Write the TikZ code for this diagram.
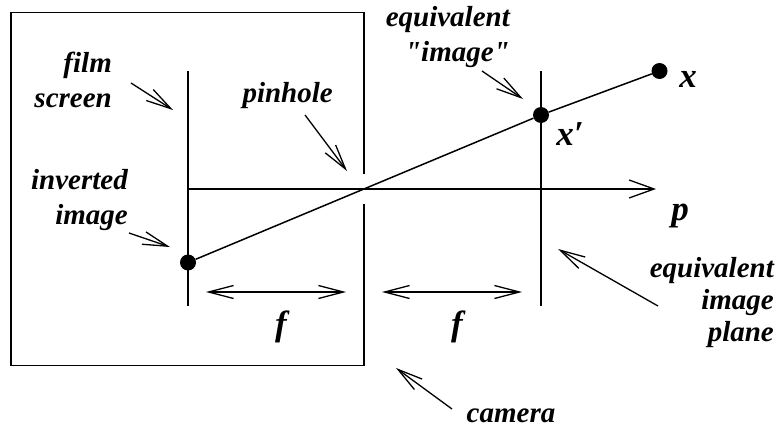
\documentclass[tikz,border=0pt]{standalone}
\usepackage{fontspec}
\newfontfamily\lbl{Liberation Serif}
\usetikzlibrary{arrows.meta}
\tikzset{
  x=1pt,y=-1pt,
  ln/.style={line width=1.5pt,line cap=butt},
  ptr/.style={line width=1.3pt,-{Straight Barb[length=25pt,width=13pt,line width=1.3pt]}},
  dbl/.style={line width=1.5pt,{Straight Barb[length=25pt,width=13pt,line width=1.3pt]}-{Straight Barb[length=25pt,width=13pt,line width=1.3pt]}},
  dot/.style={circle,fill=black,inner sep=0pt,minimum size=16pt},
  lab/.style={font=\fontsize{29}{35}\lbl\bfseries\itshape,inner sep=0pt,align=right},
  sym/.style={font=\fontsize{35}{40}\lbl\bfseries\itshape,inner sep=0pt},
}
\begin{document}
\begin{tikzpicture}
\useasboundingbox (0,0) rectangle (778,428);
% camera box, open at the pinhole
\coordinate (gapT) at (364,174);
\coordinate (gapB) at (364,204);
\coordinate (tl) at (11,12.5);
\coordinate (tr) at (364,12.5);
\coordinate (bl) at (11,365.5);
\coordinate (br) at (364,365.5);
\draw[ln,line join=miter] (gapT) -- (tr) -- (tl) -- (bl) -- (br) -- (gapB);
% planes
\coordinate (filmT) at (188,71);
\coordinate (filmB) at (188,306);
\coordinate (planeT) at (541,71);
\coordinate (planeB) at (541,306);
\draw[ln] (filmT) -- (filmB);
\draw[ln] (planeT) -- (planeB);
% axis
\coordinate (axisS) at (188,189);
\coordinate (axisE) at (656,189);
\draw[ln,-{Straight Barb[length=25pt,width=18pt,line width=1.3pt]}] (axisS) -- (axisE);
% dots and ray
\node[dot] (inv) at (188,262.5) {};
\node[dot] (xp) at (541,115) {};
\node[dot] (xx) at (659.5,71) {};
\draw[ln] (inv) -- (xp);
\draw[ln] (xp) -- (xx);
% f dimensions
\coordinate (f1a) at (206,292);
\coordinate (f1b) at (346,292);
\coordinate (f2a) at (382,292);
\coordinate (f2b) at (522,292);
\draw[dbl] (f1a) -- (f1b);
\draw[dbl] (f2a) -- (f2b);
% pointers
\coordinate (p1a) at (131,83); \coordinate (p1b) at (173,110);
\coordinate (p2a) at (305,115); \coordinate (p2b) at (347,171);
\coordinate (p3a) at (129,233); \coordinate (p3b) at (170,247);
\coordinate (p4a) at (482,71); \coordinate (p4b) at (523,99);
\coordinate (p5a) at (658,306); \coordinate (p5b) at (558,249);
\coordinate (p6a) at (452,409); \coordinate (p6b) at (396,368);
\foreach \a/\b in {p1a/p1b,p2a/p2b,p3a/p3b,p4a/p4b,p5a/p5b,p6a/p6b}
  \draw[ptr] (\a) -- (\b);
% labels
\node[lab,anchor=base east] (film) at (112,107) {film\\screen};
\node[lab,anchor=base east] (pin) at (333,102) {pinhole};
\node[lab,anchor=base east] (inverted) at (128,224) {inverted\\image};
\node[lab,anchor=base east] (equiv) at (510,62) {equivalent\\"image"};
\node[lab,anchor=base east] (eqplane) at (774,341) {equivalent\\[-3pt]image\\[-3pt]plane};
\node[lab,anchor=base] (cam) at (511,422) {camera};
\node[sym,anchor=base] (lx) at (688,87) {x};
\node[sym,anchor=base] (lxp) at (570,145) {x′};
\node[sym,anchor=base] (lp) at (680,220) {p};
\node[sym,anchor=base] (f1) at (281,335) {f};
\node[sym,anchor=base] (f2) at (457,335) {f};
\end{tikzpicture}
\end{document}
